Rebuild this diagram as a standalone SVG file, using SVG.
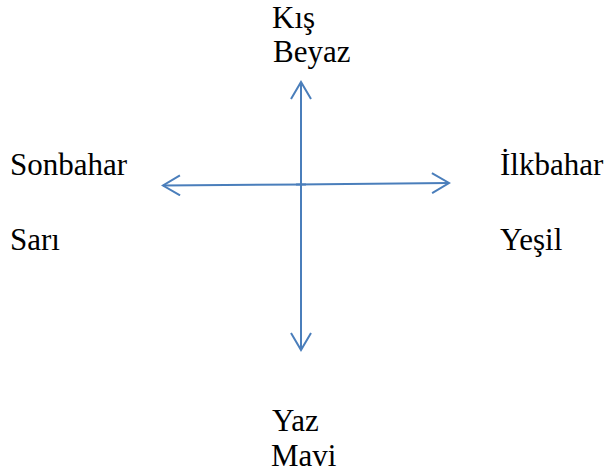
<?xml version="1.0" encoding="UTF-8"?>
<svg xmlns="http://www.w3.org/2000/svg" width="604" height="475" viewBox="0 0 604 475" font-family="Liberation Serif, Tinos, Times New Roman, DejaVu Serif, serif">
<style>
.c{stroke:#4a7ebb;stroke-width:2;fill:none}
</style>
<defs>
<marker id="ah" viewBox="0 0 20 22" refX="18" refY="11" markerWidth="20" markerHeight="22" markerUnits="userSpaceOnUse" orient="auto">
<path d="M1,1 L18,11 L1,21" fill="none" stroke="#4a7ebb" stroke-width="2"/>
</marker>
</defs>
<rect width="604" height="475" fill="#fff"/>
<g id="connectors">
<line class="c" x1="301" y1="216" x2="301" y2="82" marker-end="url(#ah)"/>
<line class="c" x1="301" y1="150" x2="301" y2="350" marker-end="url(#ah)"/>
<line class="c" x1="306" y1="184.5" x2="163" y2="185.5" marker-end="url(#ah)"/>
<line class="c" x1="296" y1="184.5" x2="449" y2="183" marker-end="url(#ah)"/>
</g>
<g id="kis" font-size="31"><text x="272" y="28">K&#305;&#351;</text><text x="273" y="62">Beyaz</text></g>
<g id="sonbahar" font-size="31"><text x="10" y="175">Sonbahar</text><text x="10" y="250">Sar&#305;</text></g>
<g id="ilkbahar" font-size="31"><text x="500" y="175">&#304;lkbahar</text><text x="500" y="250">Ye&#351;il</text></g>
<g id="yaz" font-size="31"><text x="272" y="431">Yaz</text><text x="271" y="466">Mavi</text></g>
</svg>
